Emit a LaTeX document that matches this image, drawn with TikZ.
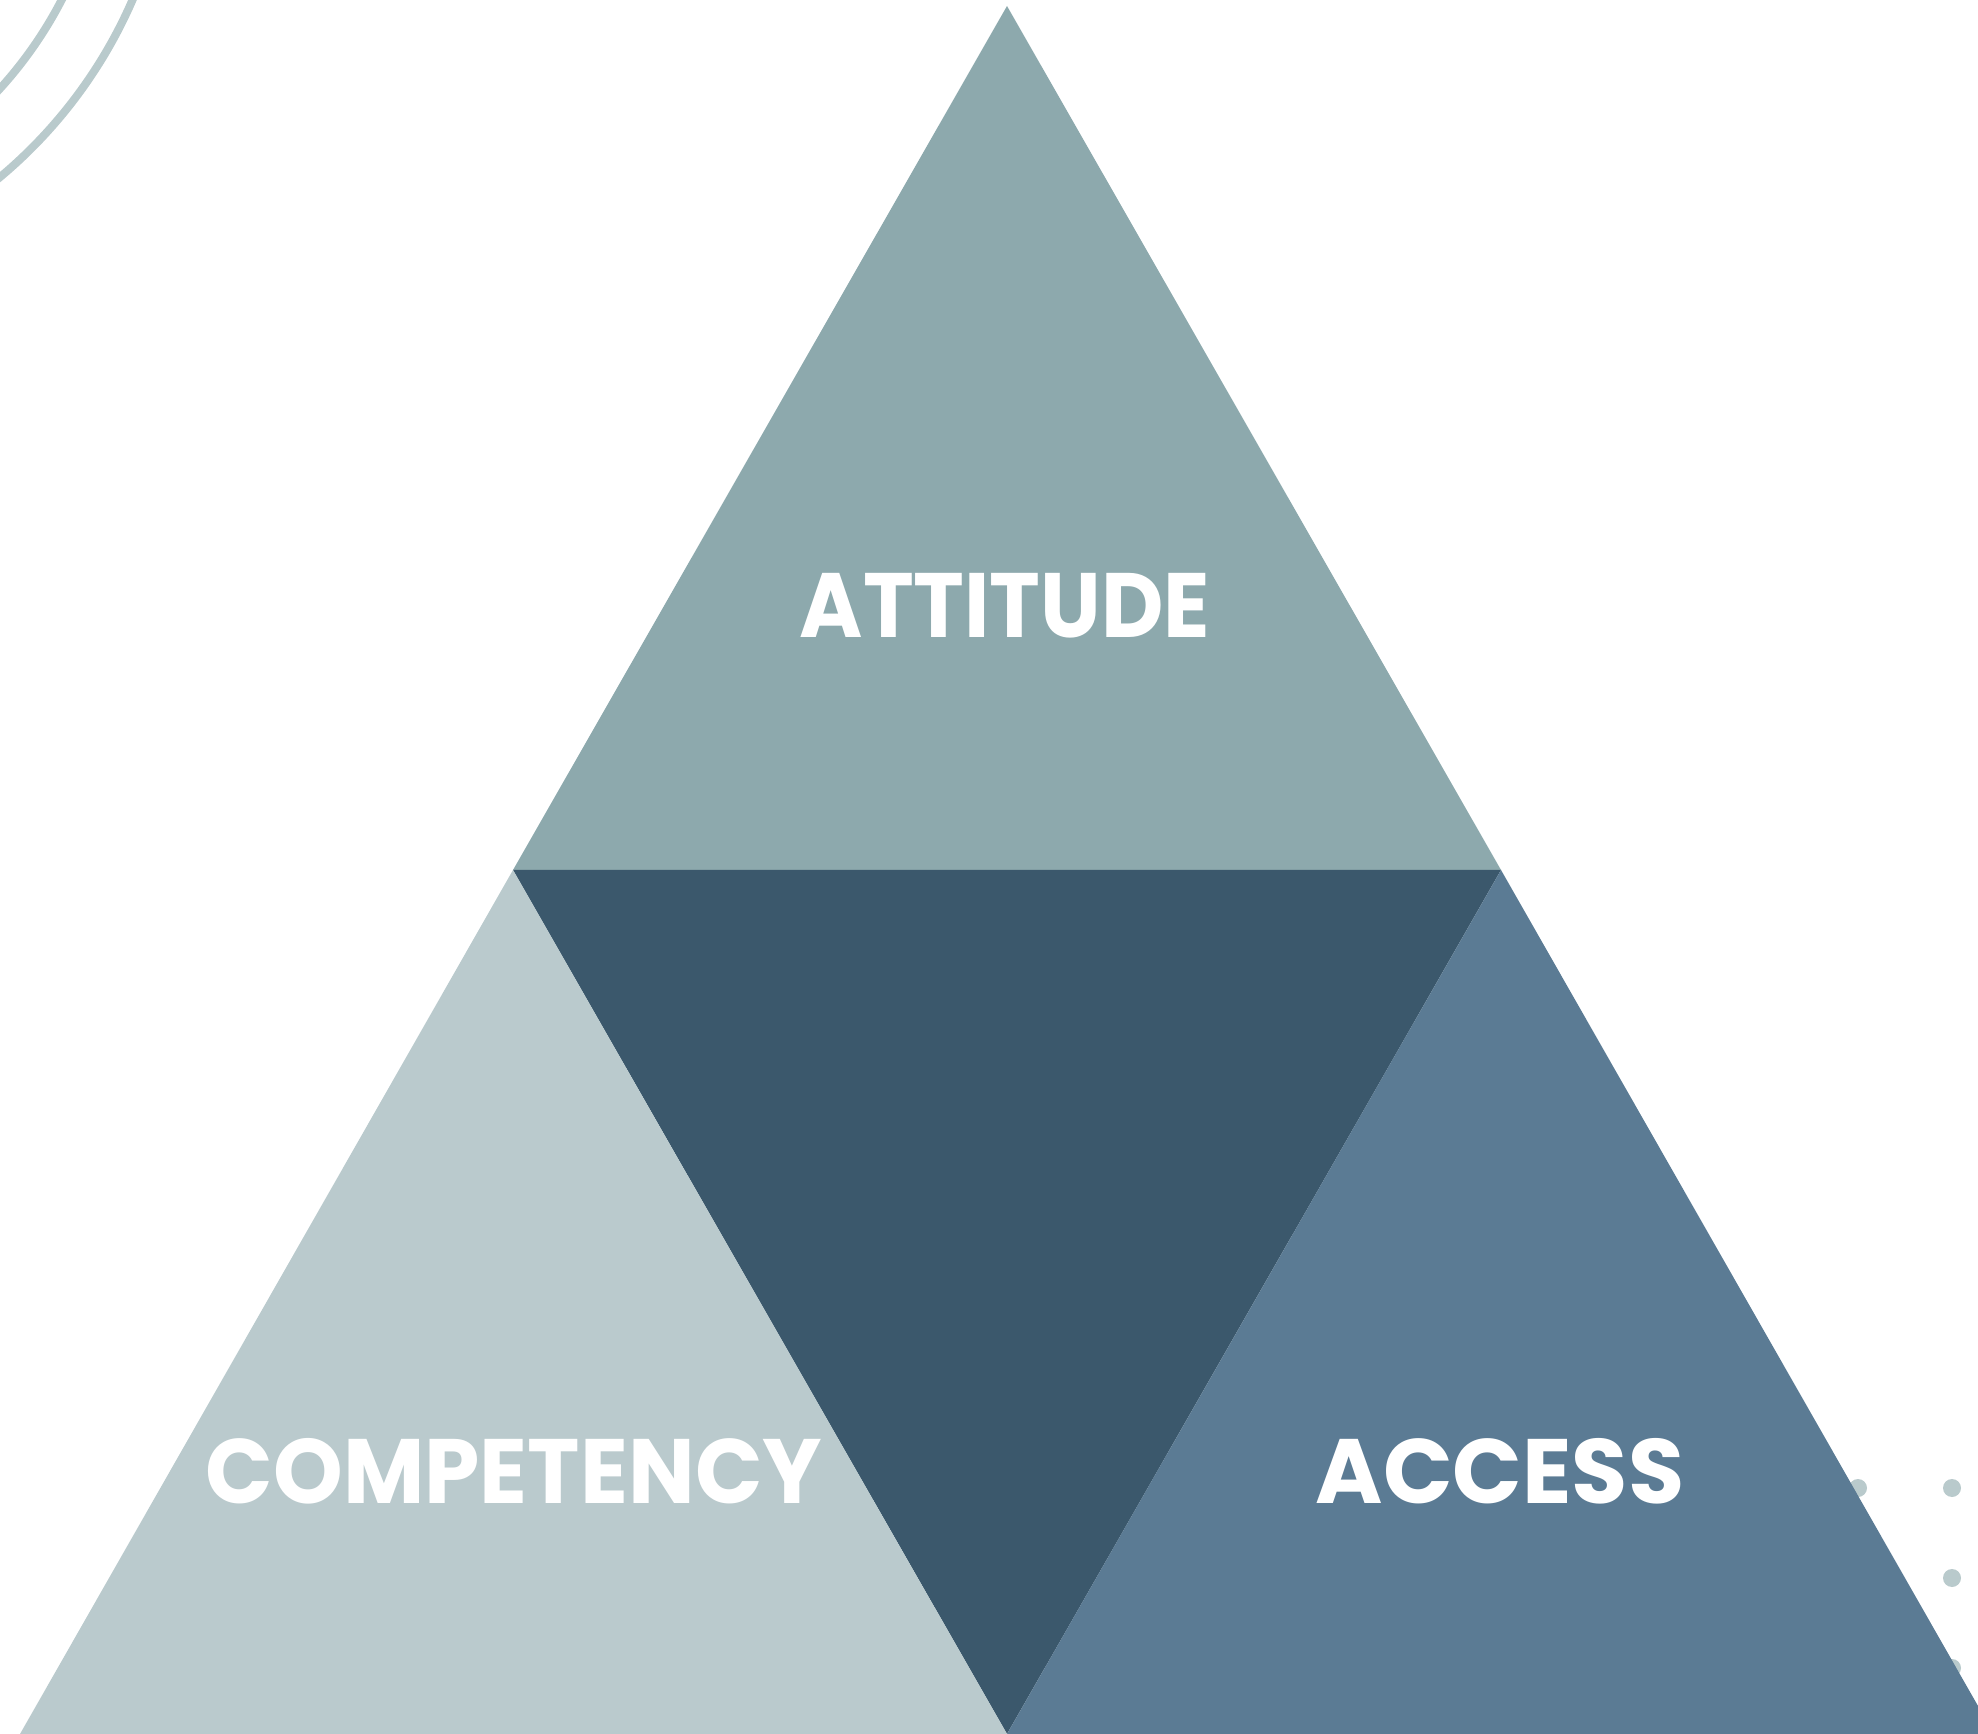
\documentclass[tikz,border=0pt]{standalone}
\usepackage{fontspec}
\setmainfont{Poppins}
\begin{document}
\definecolor{topfill}{HTML}{8DA9AD}
\definecolor{midfill}{HTML}{3B586C}
\definecolor{leftfill}{HTML}{BACACD}
\definecolor{rightfill}{HTML}{5B7B94}
\definecolor{decor}{HTML}{B9CACC}
\begin{tikzpicture}[x=0.01cm,y=-0.01cm,
  label/.style={text=white,font=\bfseries\fontsize{26}{30}\selectfont,anchor=base},
  ring/.style={draw=decor,line width=8*0.01cm},
  dot/.style={fill=decor}]
\useasboundingbox (0,0) rectangle (1978,1734);
\clip (0,0) rectangle (1978,1734);
% decorative rings in the upper left corner
\draw[ring] (-308,-191) circle (416);
\draw[ring] (-308,-191) circle (480);
% dot grid on the right
\foreach \x in {1858,1952} \foreach \y in {1488,1578,1668}
  \fill[dot] (\x,\y) circle (9);
% corner points of the pyramid
\coordinate (apex) at (1007,6);
\coordinate (ml) at (513,870);
\coordinate (mr) at (1501,870);
\coordinate (bl) at (20,1734);
\coordinate (bm) at (1007,1734);
\coordinate (br) at (1994,1734);
% the four triangles
\fill[topfill] (apex) -- (ml) -- (mr) -- cycle;
\fill[midfill] (ml) -- (mr) -- (bm) -- cycle;
\fill[leftfill] (ml) -- (bl) -- (bm) -- cycle;
\fill[rightfill] (mr) -- (bm) -- (br) -- cycle;
% labels
\node[label] (attitude) at (1005,638) {\scalebox{0.94}[1]{ATTITUDE}};
\node[label] (competency) at (514,1503) {\scalebox{0.97}[1]{COMPETENCY}};
\node[label] (access) at (1500,1503) {ACCESS};
\end{tikzpicture}
\end{document}
